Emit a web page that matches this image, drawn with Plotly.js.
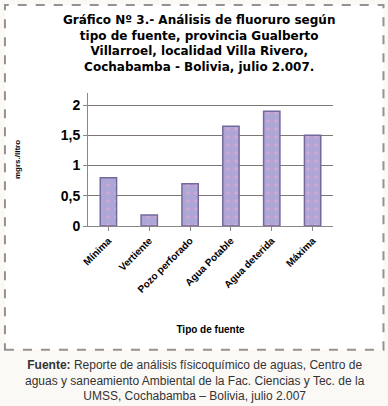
<!DOCTYPE html>
<html>
<head>
<meta charset="utf-8">
<script src="https://cdn.plot.ly/plotly-3.0.1.min.js"></script>
<style>
html,body{margin:0;padding:0;background:#fbf9f6;}
#chart{width:388px;height:406px;}
</style>
</head>
<body>
<div id="chart"></div>
<script>
const categories = ["Mínima", "Vertiente", "Pozo perforado", "Agua Potable", "Agua deterida", "Máxima"];
const values = [0.8, 0.18, 0.7, 1.65, 1.9, 1.5];
const yTickVals = [0, 0.5, 1, 1.5, 2];
const yTickText = ["<b>0</b>", "<b>0,5</b>", "<b>1</b>", "<b>1,5</b>", "<b>2</b>"];

const FONT = "Liberation Sans, Arial, sans-serif";
const TFONT = "DejaVu Sans, Liberation Sans, Arial, sans-serif";

const trace = {
  type: "bar",
  x: categories,
  y: values,
  marker: {
    color: "#aea6d6",
    line: {color: "#726a9c", width: 1.5},
    pattern: {shape: ".", fgcolor: "#d8a8d0", bgcolor: "#aea6d6", size: 8, solidity: 0.15}
  },
  hoverinfo: "x+y"
};

const layout = {
  width: 388, height: 406,
  paper_bgcolor: "#fbf9f6",
  plot_bgcolor: "#e8e8ec",
  margin: {l: 88, r: 55, t: 93, b: 180},
  bargap: 0.6,
  showlegend: false,
  font: {family: FONT, color: "#000"},
  xaxis: {
    tickangle: -45,
    tickvals: categories,
    ticktext: categories.map(c => "<b>" + c + "</b>"),
    tickfont: {family: FONT, size: 10, color: "#000"},
    showgrid: false,
    showline: true, linecolor: "#888", linewidth: 1,
    ticks: "outside", ticklen: 4, tickcolor: "#888",
    title: {text: "<b>Tipo de fuente</b>", font: {family: FONT, size: 10, color: "#000"}, standoff: 32}
  },
  yaxis: {
    range: [0, 2.2],
    tickvals: yTickVals, ticktext: yTickText,
    tickfont: {family: FONT, size: 14, color: "#000"},
    showgrid: true, gridcolor: "#7e7676", gridwidth: 1,
    showline: true, linecolor: "#888",
    ticks: "outside", ticklen: 4, tickcolor: "#888",
    zeroline: false,
    title: {text: "<b>mgrs./litro</b>", font: {family: FONT, size: 8, color: "#000"}, standoff: 38}
  },
  shapes: [
    {type: "rect", xref: "paper", yref: "paper", layer: "below",
     x0: -0.339, x1: 1.206, y0: -0.93, y1: 1.662,
     fillcolor: "#ffffff", line: {color: "#9a9090", width: 2, dash: "dash"}}
  ],
  annotations: [
    {xref: "paper", yref: "paper", x: 0.455, y: 1.62, xanchor: "center", yanchor: "top",
     showarrow: false, align: "center",
     text: "<b>Gráfico Nº 3.- Análisis de fluoruro según<br>tipo de fuente, provincia Gualberto<br>Villarroel, localidad Villa Rivero,<br>Cochabamba - Bolivia, julio 2.007.</b>",
     font: {family: TFONT, size: 12, color: "#000"}},
    {xref: "paper", yref: "paper", x: 0.435, y: -0.975, xanchor: "center", yanchor: "top",
     showarrow: false, align: "center",
     text: "<b>Fuente:</b> Reporte de análisis físicoquímico de aguas, Centro de<br>aguas y saneamiento Ambiental de la Fac. Ciencias y Tec. de la<br>UMSS, Cochabamba – Bolivia, julio 2.007",
     font: {family: FONT, size: 12, color: "#333"}}
  ]
};

Plotly.newPlot("chart", [trace], layout, {displayModeBar: false, staticPlot: true});
</script>
</body>
</html>
